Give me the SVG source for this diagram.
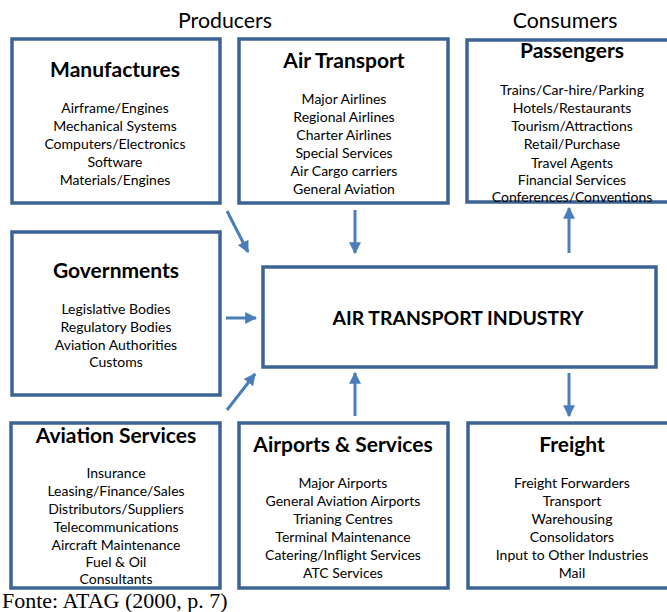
<svg xmlns="http://www.w3.org/2000/svg" width="667" height="612" viewBox="0 0 667 612">
  <style>
    .box { fill: #ffffff; stroke: #3d6394; stroke-width: 3.5; }
    .head { font-family: Lato, "Liberation Sans", Arial, sans-serif; font-weight: bold; font-size: 21px; fill: #000; text-anchor: middle; }
    .item { font-family: Lato, "Liberation Sans", Arial, sans-serif; font-size: 14px; fill: #000; text-anchor: middle; }
    .title { font-family: Lato, "Liberation Sans", Arial, sans-serif; font-size: 21.3px; fill: #000; text-anchor: middle; }
    .link { stroke: #4a7ebb; stroke-width: 3; fill: none; marker-end: url(#arrow); }
  </style>
  <defs>
    <marker id="arrow" viewBox="0 0 10 10" refX="9" refY="5" markerWidth="4" markerHeight="4" orient="auto" markerUnits="strokeWidth">
      <path d="M0,0 L10,5 L0,10 z" fill="#4a7ebb"/>
    </marker>
  </defs>
  <rect width="667" height="612" fill="#ffffff"/>

  <g id="labels">
    <text class="title" x="225" y="28">Producers</text>
    <text class="title" x="565" y="28">Consumers</text>
  </g>

  <g id="manufactures">
    <rect class="box" x="12" y="39" width="208" height="164"/>
    <text class="head" x="115" y="77">Manufactures</text>
    <text class="item" x="115" y="113">Airframe/Engines</text>
    <text class="item" x="115" y="131">Mechanical Systems</text>
    <text class="item" x="115" y="149">Computers/Electronics</text>
    <text class="item" x="115" y="167">Software</text>
    <text class="item" x="115" y="185">Materials/Engines</text>
  </g>

  <g id="air-transport">
    <rect class="box" x="239" y="39" width="209" height="164"/>
    <text class="head" x="344" y="68">Air Transport</text>
    <text class="item" x="344" y="104">Major Airlines</text>
    <text class="item" x="344" y="122">Regional Airlines</text>
    <text class="item" x="344" y="140">Charter Airlines</text>
    <text class="item" x="344" y="158">Special Services</text>
    <text class="item" x="344" y="176">Air Cargo carriers</text>
    <text class="item" x="344" y="194">General Aviation</text>
  </g>

  <g id="passengers">
    <rect class="box" x="467" y="40" width="215" height="162"/>
    <text class="head" x="572" y="58">Passengers</text>
    <text class="item" x="572" y="95">Trains/Car-hire/Parking</text>
    <text class="item" x="572" y="113">Hotels/Restaurants</text>
    <text class="item" x="572" y="131">Tourism/Attractions</text>
    <text class="item" x="572" y="149">Retail/Purchase</text>
    <text class="item" x="572" y="168">Travel Agents</text>
    <text class="item" x="572" y="185">Financial Services</text>
    <text class="item" x="572" y="202">Conferences/Conventions</text>
  </g>

  <g id="governments">
    <rect class="box" x="12" y="232" width="208" height="163"/>
    <text class="head" x="116" y="278">Governments</text>
    <text class="item" x="116" y="314">Legislative Bodies</text>
    <text class="item" x="116" y="332">Regulatory Bodies</text>
    <text class="item" x="116" y="350">Aviation Authorities</text>
    <text class="item" x="116" y="367">Customs</text>
  </g>

  <g id="industry">
    <rect class="box" x="263" y="267" width="393" height="100"/>
    <text class="head" x="458" y="325" style="font-size:19.4px">AIR TRANSPORT INDUSTRY</text>
  </g>

  <g id="aviation-services">
    <rect class="box" x="11" y="423" width="209" height="165"/>
    <text class="head" x="116" y="443">Aviation Services</text>
    <text class="item" x="116" y="478">Insurance</text>
    <text class="item" x="116" y="496">Leasing/Finance/Sales</text>
    <text class="item" x="116" y="514">Distributors/Suppliers</text>
    <text class="item" x="116" y="532">Telecommunications</text>
    <text class="item" x="116" y="550">Aircraft Maintenance</text>
    <text class="item" x="116" y="567">Fuel &amp; Oil</text>
    <text class="item" x="116" y="584">Consultants</text>
  </g>

  <g id="airports">
    <rect class="box" x="239" y="423" width="209" height="165"/>
    <text class="head" x="343" y="452">Airports &amp; Services</text>
    <text class="item" x="343" y="488">Major Airports</text>
    <text class="item" x="343" y="506">General Aviation Airports</text>
    <text class="item" x="343" y="524">Trianing Centres</text>
    <text class="item" x="343" y="542">Terminal Maintenance</text>
    <text class="item" x="343" y="560">Catering/Inflight Services</text>
    <text class="item" x="343" y="578">ATC Services</text>
  </g>

  <g id="freight">
    <rect class="box" x="468" y="423" width="215" height="165"/>
    <text class="head" x="572" y="452">Freight</text>
    <text class="item" x="572" y="488">Freight Forwarders</text>
    <text class="item" x="572" y="506">Transport</text>
    <text class="item" x="572" y="524">Warehousing</text>
    <text class="item" x="572" y="542">Consolidators</text>
    <text class="item" x="572" y="560">Input to Other Industries</text>
    <text class="item" x="572" y="578">Mail</text>
  </g>

  <g id="connectors">
    <line class="link" x1="227" y1="211" x2="248" y2="252"/>
    <line class="link" x1="355" y1="210" x2="355" y2="253"/>
    <line class="link" x1="226" y1="318" x2="256" y2="318"/>
    <line class="link" x1="227" y1="410" x2="255" y2="374"/>
    <line class="link" x1="355" y1="416" x2="355" y2="373"/>
    <line class="link" x1="569" y1="373" x2="569" y2="416"/>
    <line class="link" x1="569" y1="253" x2="569" y2="208"/>
  </g>

  <text id="source" x="2" y="608" style="font-family:'Liberation Serif','Times New Roman',serif;font-size:22px;fill:#000">Fonte: ATAG (2000, p. 7)</text>
</svg>
